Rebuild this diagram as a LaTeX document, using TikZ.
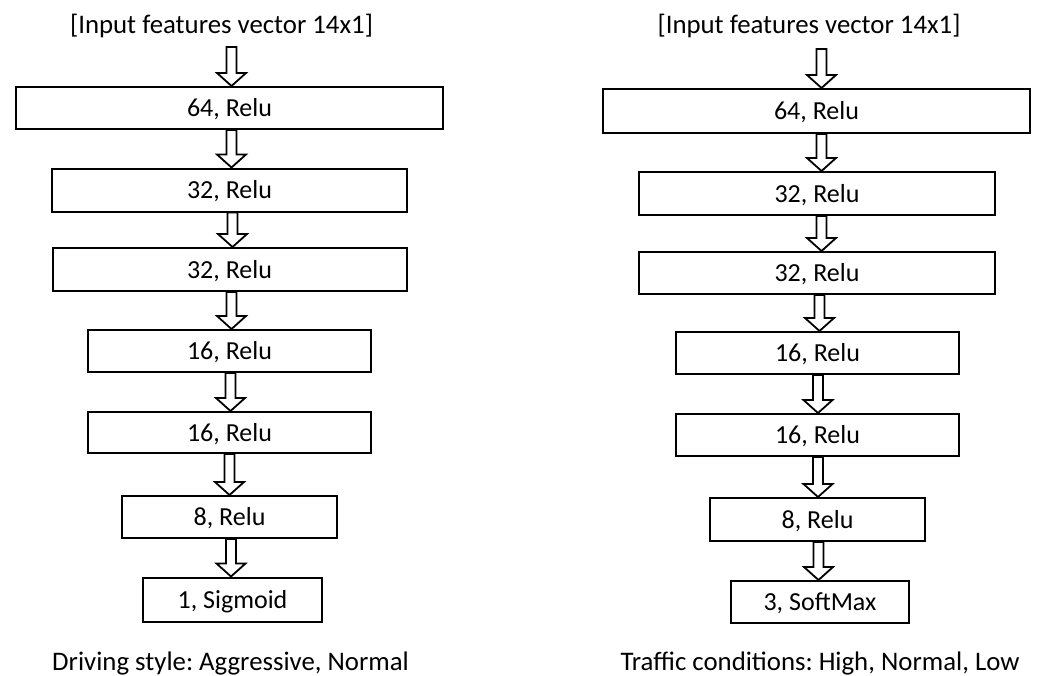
\documentclass[tikz,border=0pt]{standalone}
\usepackage{fontspec}
\setmainfont{Carlito}
\usetikzlibrary{calc}
\frenchspacing

\tikzset{
  layerbox/.style={draw=black, line width=2pt, fill=white, inner sep=0pt,
    text height=17pt, text depth=0pt,
    font=\fontsize{26}{30}\selectfont},
  labeltext/.style={inner sep=0pt, anchor=base, font=\fontsize{26.8}{30}\selectfont},
  blockarrow/.style={draw=black, line width=1.8pt, fill=white, line join=miter},
}

% Hollow block arrow: #1 start point, #2 target node, #3 horizontal offset
\newcommand\blockarrow[3]{%
  \draw[blockarrow]
    ($(#1 -| #2.north)+(#3-5,0)$) --
    ($(#2.north)+(#3-5,-13)$) --
    ($(#2.north)+(#3-14.5,-13)$) --
    ($(#2.north)+(#3,0)$) --
    ($(#2.north)+(#3+14.5,-13)$) --
    ($(#2.north)+(#3+5,-13)$) --
    ($(#1 -| #2.north)+(#3+5,0)$) -- cycle;}

\begin{document}
\begin{tikzpicture}[x=1pt, y=-1pt]
  \useasboundingbox[fill=white] (0,0) rectangle (1040,675);

  % ---- Driving style network ----
  \node[labeltext] (Lt) at (221.5,33) {[Input features vector 14x1]};
  \node[layerbox, minimum width=427pt, minimum height=42pt] (L1) at (229.5,108) {64, Relu};
  \node[layerbox, minimum width=355pt, minimum height=43pt] (L2) at (229.5,190) {32, Relu};
  \node[layerbox, minimum width=354pt, minimum height=43pt] (L3) at (229.5,269.5) {32, Relu};
  \node[layerbox, minimum width=283pt, minimum height=42pt] (L4) at (229.5,351) {16, Relu};
  \node[layerbox, minimum width=283pt, minimum height=41pt] (L5) at (229.5,432.5) {16, Relu};
  \node[layerbox, minimum width=215pt, minimum height=42pt] (L6) at (229.5,517) {8, Relu};
  \node[layerbox, minimum width=179pt, minimum height=44pt] (L7) at (232.5,599.5) {1, Sigmoid};
  \node[labeltext] (Lc) at (230.5,670) {Driving style: Aggressive, Normal};

  \coordinate (Lin) at ($(Lt.base)+(0,14)$);
  \blockarrow{Lin}{L1}{2}
  \blockarrow{L1.south}{L2}{2}
  \blockarrow{L2.south}{L3}{3}
  \blockarrow{L3.south}{L4}{2}
  \blockarrow{L4.south}{L5}{1}
  \blockarrow{L5.south}{L6}{0}
  \blockarrow{L6.south}{L7}{-1.5}

  % ---- Traffic conditions network ----
  \node[labeltext] (Rt) at (809,33) {[Input features vector 14x1]};
  \node[layerbox, minimum width=427pt, minimum height=44pt] (R1) at (816.5,111) {64, Relu};
  \node[layerbox, minimum width=356pt, minimum height=43pt] (R2) at (817,193.5) {32, Relu};
  \node[layerbox, minimum width=356pt, minimum height=42pt] (R3) at (817,273) {32, Relu};
  \node[layerbox, minimum width=283pt, minimum height=42pt] (R4) at (817.5,353) {16, Relu};
  \node[layerbox, minimum width=283pt, minimum height=42pt] (R5) at (817.5,435) {16, Relu};
  \node[layerbox, minimum width=215pt, minimum height=43pt] (R6) at (817.5,519.5) {8, Relu};
  \node[layerbox, minimum width=178pt, minimum height=42pt] (R7) at (820,602) {3, SoftMax};
  \node[labeltext] (Rc) at (820,670) {Traffic conditions: High, Normal, Low};

  \coordinate (Rin) at ($(Rt.base)+(0,16)$);
  \blockarrow{Rin}{R1}{5}
  \blockarrow{R1.south}{R2}{4.5}
  \blockarrow{R2.south}{R3}{4.5}
  \blockarrow{R3.south}{R4}{2}
  \blockarrow{R4.south}{R5}{0.5}
  \blockarrow{R5.south}{R6}{0.5}
  \blockarrow{R6.south}{R7}{-1.5}
\end{tikzpicture}
\end{document}
